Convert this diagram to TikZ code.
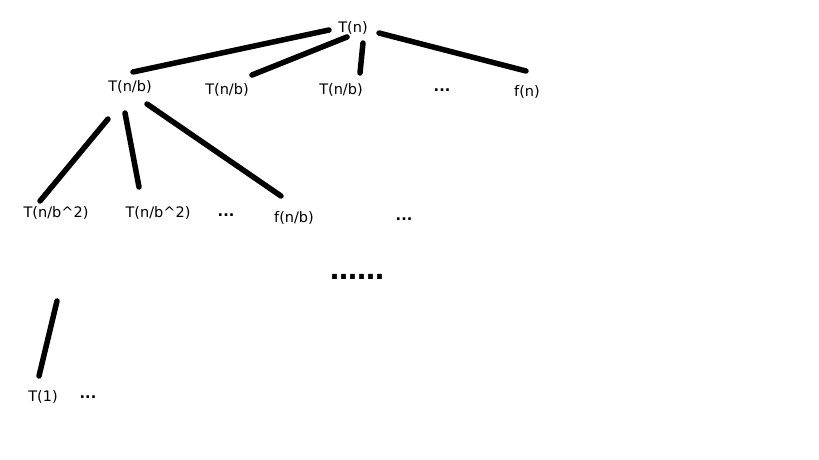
\documentclass[tikz,border=0pt]{standalone}
\usepackage{fontspec}
\setmainfont{DejaVu Sans}
\begin{document}
\begin{tikzpicture}[x=1pt,y=-1pt,
  lbl/.style={anchor=base,inner sep=0pt,font=\fontsize{14.5}{17}\selectfont},
  edge/.style={line width=5.5pt,line cap=round}]
\useasboundingbox[fill=white] (0,0) rectangle (819,460);
% labels
\node[lbl] (root) at (353,33) {T(n)};
\node[lbl] (a1) at (130,92) {T(n/b)};
\node[lbl] (a2) at (227,95) {T(n/b)};
\node[lbl] (a3) at (341,94) {T(n/b)};
\node[lbl] (a4) at (442,91) {\textbf{...}};
\node[lbl] (a5) at (527,96) {f(n)};
\node[lbl] (b1) at (56,217) {T(n/b\^{}2)};
\node[lbl] (b2) at (158,217) {T(n/b\^{}2)};
\node[lbl] (b3) at (226,216) {\textbf{...}};
\node[lbl] (b4) at (294,222) {f(n/b)};
\node[lbl] (b5) at (404,220) {\textbf{...}};
\node[anchor=base,inner sep=0pt,font=\fontsize{27}{30}\selectfont\bfseries] (mid) at (357,279) {……};
\node[lbl] (c1) at (43,401) {T(1)};
\node[lbl] (c2) at (88,398) {\textbf{...}};
% connector end points
\coordinate (r1) at (329,30); \coordinate (e1) at (133,72);
\coordinate (r2) at (347,37); \coordinate (e2) at (252,75);
\coordinate (r3) at (363,43); \coordinate (e3) at (360,73);
\coordinate (r4) at (379,33); \coordinate (e4) at (526,71);
\coordinate (s1) at (108,119); \coordinate (f1) at (40,201);
\coordinate (s2) at (125,113); \coordinate (f2) at (139,187);
\coordinate (s3) at (147,104); \coordinate (f3) at (281,196);
\coordinate (t1) at (57,301); \coordinate (g1) at (39,376);
% connectors
\draw[edge] (r1) -- (e1);
\draw[edge] (r2) -- (e2);
\draw[edge] (r3) -- (e3);
\draw[edge] (r4) -- (e4);
\draw[edge] (s1) -- (f1);
\draw[edge] (s2) -- (f2);
\draw[edge] (s3) -- (f3);
\draw[edge] (t1) -- (g1);
\end{tikzpicture}
\end{document}
